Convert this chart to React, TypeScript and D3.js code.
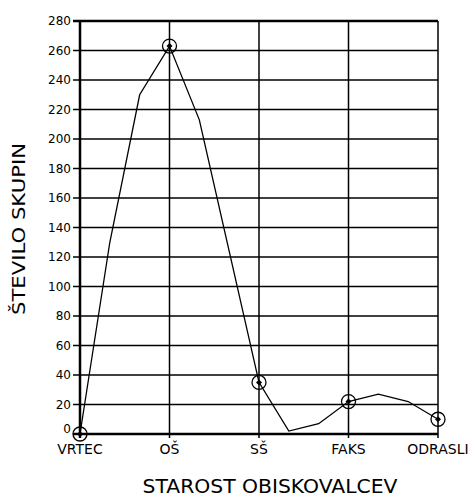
import React from "react";
import * as d3 from "d3";

const categories = ["VRTEC", "OŠ", "SŠ", "FAKS", "ODRASLI"];
// 3 steps between each category (intermediate points)
const values = [0, 130, 230, 263, 213, 124, 35, 2, 7, 22, 27, 22, 10];
const yTicks = [0, 20, 40, 60, 80, 100, 120, 140, 160, 180, 200, 220, 240, 260, 280];
const xTitle = "STAROST OBISKOVALCEV";
const yTitle = "ŠTEVILO SKUPIN";

const W = 472;
const H = 502;
const left = 80;
const right = 438;
const top = 21;
const bottom = 434;
const FONT = "'DejaVu Sans', sans-serif";

export default function App() {
  const x = d3.scaleLinear().domain([0, values.length - 1]).range([left, right]);
  const y = d3.scaleLinear().domain([0, 280]).range([bottom, top]);
  const stepsPerCat = (values.length - 1) / (categories.length - 1);
  const line = d3
    .line<number>()
    .x((_, i) => x(i))
    .y((d) => y(d));
  const markerIdx = categories.map((_, i) => i * stepsPerCat);

  return (
    <svg
      width={W}
      height={H}
      style={{ position: "absolute", left: 0, top: 0, background: "#fff" }}
      fontFamily={FONT}
    >
      {/* horizontal grid */}
      {yTicks.map((t) => (
        <line
          key={"h" + t}
          x1={left - 7}
          x2={right}
          y1={y(t)}
          y2={y(t)}
          stroke="#000"
          strokeWidth={t === 0 || t === 280 ? 2.5 : 1.5}
        />
      ))}
      {/* vertical grid */}
      {categories.map((c, i) => (
        <line
          key={"v" + c}
          x1={x(i * stepsPerCat)}
          x2={x(i * stepsPerCat)}
          y1={top}
          y2={bottom + 4}
          stroke="#000"
          strokeWidth={i === 0 ? 2.5 : 1.5}
        />
      ))}
      {/* y tick labels */}
      {yTicks.map((t) => (
        <text
          key={"yl" + t}
          x={left - 9}
          y={y(t) - (t === 0 ? 5 : 0)}
          dy="0.35em"
          textAnchor="end"
          fontSize={12}
          fill="#000"
        >
          {t}
        </text>
      ))}
      {/* x tick labels */}
      {categories.map((c, i) => (
        <text
          key={"xl" + c}
          x={x(i * stepsPerCat)}
          y={454}
          textAnchor="middle"
          fontSize={14}
          fill="#000"
        >
          {c}
        </text>
      ))}
      {/* data line */}
      <path d={line(values) || ""} fill="none" stroke="#000" strokeWidth={1.3} />
      {/* markers */}
      {markerIdx.map((i) => (
        <g key={"m" + i} transform={`translate(${x(i)},${y(values[i])})`}>
          <circle r={7} fill="none" stroke="#000" strokeWidth={1.3} />
          <path d="M0,-3L3,0L0,3L-3,0Z" fill="#000" />
        </g>
      ))}
      {/* axis titles */}
      <text
        x={270}
        y={493}
        textAnchor="middle"
        fontSize={19}
        textLength={255}
        lengthAdjust="spacingAndGlyphs"
        fill="#000"
      >
        {xTitle}
      </text>
      <text
        transform={`translate(25,229) rotate(-90)`}
        textAnchor="middle"
        fontSize={17}
        textLength={172}
        lengthAdjust="spacingAndGlyphs"
        fill="#000"
      >
        {yTitle}
      </text>
    </svg>
  );
}
